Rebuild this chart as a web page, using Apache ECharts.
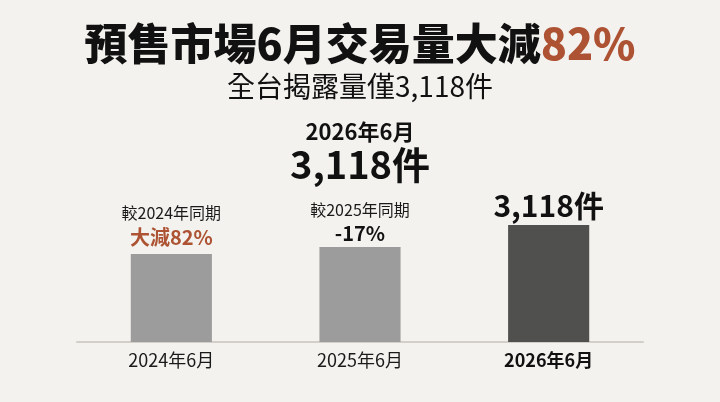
<!DOCTYPE html>
<html lang="zh-Hant">
<head>
    <meta charset="UTF-8">
    <title>預售市場6月交易量</title>
    <script src="https://cdn.jsdelivr.net/npm/echarts@6.0.0/dist/echarts.min.js"></script>
    <style>
        html, body { margin: 0; padding: 0; background: #f3f2ef; }
    </style>
</head>
<body>
    <div id="main" style="width: 720px; height: 402px;"></div>
    <script>
        const months = ['2024年6月', '2025年6月', '2026年6月'];
        // bar heights as drawn in the picture (not to scale with the counts)
        const barLevel = [88, 95, 117];
        const compareText = ['較2024年同期', '較2025年同期', ''];
        const changeText = ['大減82%', '-17%', '3,118件'];
        const barColors = ['#9c9c9c', '#9c9c9c', '#50504e'];

        const FONT = '"Noto Sans CJK TC", "Noto Sans", sans-serif';
        const RED = '#ad5232';

        const myChart = echarts.init(document.getElementById('main'));

        const data = barLevel.map(function (v, i) {
            let fmt;
            if (compareText[i]) {
                fmt = '{c|' + compareText[i] + '}\n{' + (i === 0 ? 'r' : 'k') + '|' + changeText[i] + '}';
            } else {
                fmt = '{big|' + changeText[i] + '}';
            }
            return {
                value: v,
                itemStyle: { color: barColors[i] },
                label: { formatter: fmt, distance: i === 0 ? 4 : 2 }
            };
        });

        const options = {
            backgroundColor: '#f3f2ef',
            animation: false,
            title: [
                {
                    text: '{a|預售市場6月交易量大減}{b|82%}',
                    left: 'center',
                    top: 19,
                    padding: 0,
                    textStyle: {
                        rich: {
                            a: { fontFamily: FONT, fontSize: 43, fontWeight: 900, color: '#111', lineHeight: 50 },
                            b: { fontFamily: FONT, fontSize: 43, fontWeight: 900, color: RED, lineHeight: 50 }
                        }
                    }
                },
                {
                    text: '全台揭露量僅3,118件',
                    left: 'center',
                    top: 70,
                    padding: 0,
                    textStyle: { fontFamily: FONT, fontSize: 28, fontWeight: 'normal', color: '#111', lineHeight: 32 }
                },
                {
                    text: '2026年6月',
                    left: 'center',
                    top: 119,
                    padding: 0,
                    textStyle: { fontFamily: FONT, fontSize: 22, fontWeight: 'bold', color: '#111', lineHeight: 26 }
                },
                {
                    text: '3,118件',
                    left: 'center',
                    top: 143,
                    padding: 0,
                    textStyle: { fontFamily: FONT, fontSize: 38, fontWeight: 'bold', color: '#111', lineHeight: 44 }
                }
            ],
            grid: {
                left: 77,
                right: 77,
                top: 142,
                bottom: 60
            },
            xAxis: {
                type: 'category',
                data: months,
                axisLine: { show: true, lineStyle: { color: '#d3cfc8', width: 2 } },
                axisTick: { show: false },
                axisLabel: {
                    margin: 8,
                    formatter: function (v, i) {
                        return i === 2 ? '{b|' + v + '}' : '{n|' + v + '}';
                    },
                    rich: {
                        n: { fontFamily: FONT, fontSize: 18, color: '#1a1a1a', lineHeight: 20 },
                        b: { fontFamily: FONT, fontSize: 18, fontWeight: 'bold', color: '#111', lineHeight: 20 }
                    }
                }
            },
            yAxis: {
                type: 'value',
                min: 0,
                max: 200,
                show: false,
                splitLine: { show: false }
            },
            series: [{
                type: 'bar',
                data: data,
                barWidth: '43%',
                label: {
                    show: true,
                    position: 'top',
                    rich: {
                        c: { fontFamily: FONT, fontSize: 16, color: '#1a1a1a', lineHeight: 22, align: 'center' },
                        r: { fontFamily: FONT, fontSize: 20, fontWeight: 'bold', color: RED, lineHeight: 26, align: 'center' },
                        k: { fontFamily: FONT, fontSize: 20, fontWeight: 'bold', color: '#111', lineHeight: 24, align: 'center' },
                        big: { fontFamily: FONT, fontSize: 30, fontWeight: 'bold', color: '#111', lineHeight: 34, align: 'center' }
                    }
                }
            }]
        };

        myChart.setOption(options);
    </script>
</body>
</html>
